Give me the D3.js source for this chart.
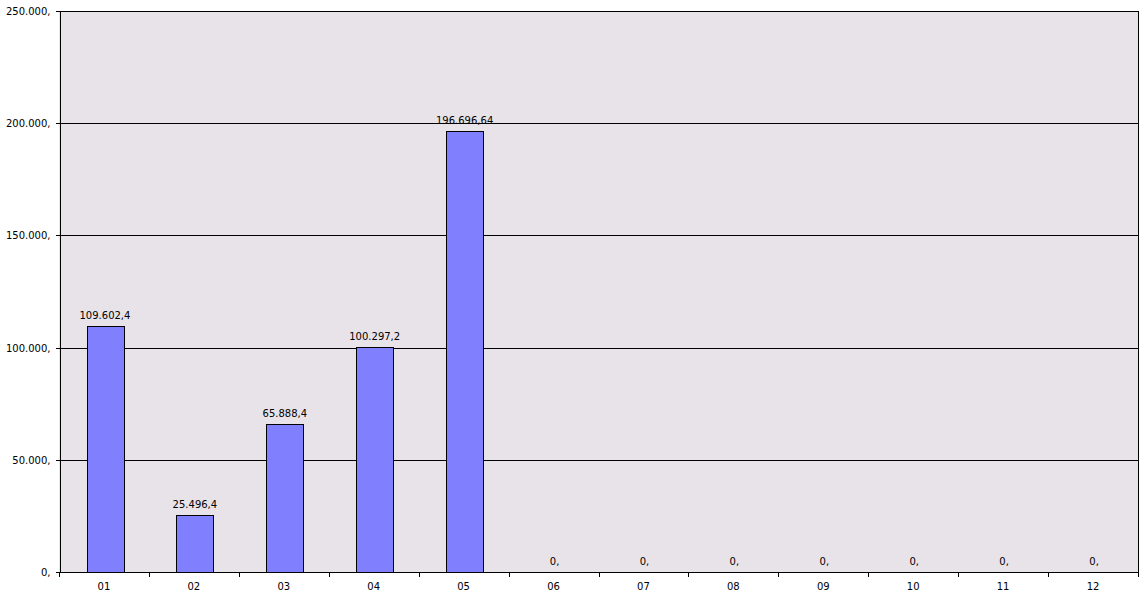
<!DOCTYPE html>
<html><head><meta charset="utf-8">
<script src="https://cdn.jsdelivr.net/npm/d3@7"></script>
<style>body{margin:0;background:#fff}svg{display:block}text{font-family:"DejaVu Sans",Verdana,sans-serif;font-size:10px;fill:#000}line,rect,path{shape-rendering:crispEdges}</style>
</head><body><svg id="c" width="1144" height="601"></svg>
<script>
const categories = ["01","02","03","04","05","06","07","08","09","10","11","12"];
const values = [109602.4, 25496.4, 65888.4, 100297.2, 196696.64, 0, 0, 0, 0, 0, 0, 0];
const valueLabels = ["109.602,4","25.496,4","65.888,4","100.297,2","196.696,64","0,","0,","0,","0,","0,","0,","0,"];
const yTicks = [0, 50000, 100000, 150000, 200000, 250000];
const yTickLabels = ["0,","50.000,","100.000,","150.000,","200.000,","250.000,"];

const svg = d3.select("#c");
const L = 59, R = 1138, T = 11, B = 572;
const x = d3.scaleBand().domain(categories).range([L, R]).paddingInner(0.59).paddingOuter(0.295);
const xb = d3.scaleBand().domain(categories).range([L, R]);
const y = d3.scaleLinear().domain([0, 250000]).range([B, T]);
const py = v => Math.round(y(v)) + 0.5;

svg.append("rect").attr("x", L).attr("y", T).attr("width", R - L).attr("height", B - T).attr("fill", "#E8E3E8");

svg.append("g").selectAll("line").data(yTicks.filter(d => d > 0)).join("line")
  .attr("x1", L).attr("x2", R).attr("y1", py).attr("y2", py)
  .attr("stroke", "#000");

svg.append("g").selectAll("rect").data(values).join("rect")
  .attr("x", (d, i) => Math.round(x(categories[i])) + 1.5)
  .attr("y", d => py(d))
  .attr("width", Math.round(x.bandwidth()))
  .attr("height", d => py(0) - py(d))
  .attr("fill", "#8080FF").attr("stroke", "#000")
  .attr("display", d => d > 0 ? null : "none");

svg.append("g").selectAll("text").data(values).join("text")
  .attr("x", (d, i) => xb(categories[i]) + xb.bandwidth() / 2 + 1)
  .attr("y", d => y(d) - 7)
  .attr("text-anchor", "middle")
  .text((d, i) => valueLabels[i]);

// axes
const yAxis = d3.axisLeft(y).tickValues(yTicks).tickSize(4).tickFormat((d, i) => yTickLabels[i]);
const gy = svg.append("g").attr("transform", `translate(${L + 0.5},0)`).call(yAxis);
gy.select(".domain").attr("stroke", "#000");
gy.selectAll(".tick").attr("transform", d => `translate(0,${py(d)})`);
gy.selectAll("text").attr("dx", "-2").style("font-family", '"DejaVu Sans",Verdana,sans-serif').style("font-size", "10px");

svg.append("line").attr("x1", L).attr("x2", R + 1).attr("y1", B + 0.5).attr("y2", B + 0.5).attr("stroke", "#000");
svg.append("line").attr("x1", L).attr("x2", R + 1).attr("y1", T + 0.5).attr("y2", T + 0.5).attr("stroke", "#000");
svg.append("line").attr("x1", R + 0.5).attr("x2", R + 0.5).attr("y1", T).attr("y2", B).attr("stroke", "#000");

const bounds = categories.map(c => xb(c)).concat([R]);
svg.append("g").selectAll("line").data(bounds).join("line")
  .attr("x1", d => Math.round(d) + 0.5).attr("x2", d => Math.round(d) + 0.5)
  .attr("y1", B).attr("y2", B + 5).attr("stroke", "#000");

svg.append("g").selectAll("text").data(categories).join("text")
  .attr("x", d => xb(d) + xb.bandwidth() / 2).attr("y", B + 18)
  .attr("text-anchor", "middle").text(d => d);
</script></body></html>
